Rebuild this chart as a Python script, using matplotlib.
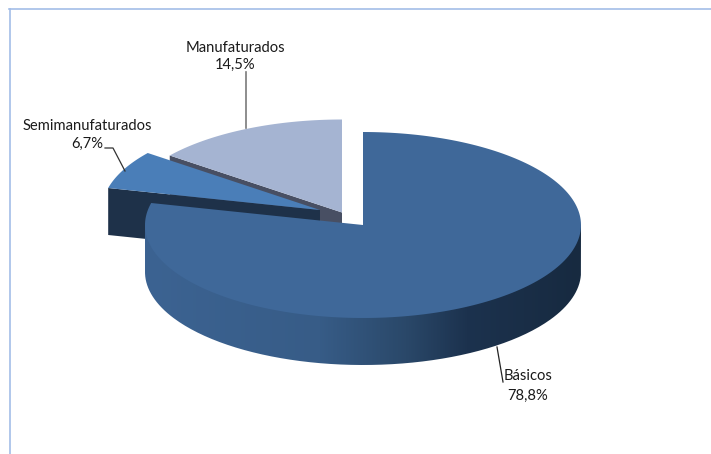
import numpy as np
import matplotlib.pyplot as plt
from matplotlib.colors import LinearSegmentedColormap
from matplotlib.patches import PathPatch, Polygon
from matplotlib.path import Path

categories = ["Básicos", "Semimanufaturados", "Manufaturados"]
shares = [78.8, 6.7, 14.5]
share_labels = ["78,8%", "6,7%", "14,5%"]

W, H = 711, 454
RX, RY, DEPTH = 218, 93, 47

# Apex of each slice in pixels (exploded pie, so each has its own)
centers = {"Básicos": (363, 225), "Semimanufaturados": (320, 210), "Manufaturados": (342, 212.5)}
top_colors = {"Básicos": "#3f6899", "Semimanufaturados": "#4a7eb8", "Manufaturados": "#a5b4d2"}
side_colors = {"Semimanufaturados": "#1e3149", "Manufaturados": "#484f63"}
rim_stops = [(0.0, "#3c6392"), (0.4, "#375c87"), (0.6, "#2a4869"), (0.74, "#1c324e"), (1.0, "#172a40")]


def rim(center, a0, a1, drop=0, n=200):
    t = np.radians(np.linspace(a0, a1, n))
    return np.column_stack([center[0] + RX * np.cos(t), center[1] - RY * np.sin(t) + drop])


def draw_top(ax, name, a0, a1, z):
    c = centers[name]
    pts = np.vstack([[c], rim(c, a0, a1)])
    ax.add_patch(Polygon(pts, closed=True, fc=top_colors[name], ec="none", zorder=z))


def draw_cut_face(ax, name, angle, z):
    c = centers[name]
    tip = rim(c, angle, angle, n=1)[0]
    pts = [c, tip, (tip[0], tip[1] + DEPTH), (c[0], c[1] + DEPTH)]
    ax.add_patch(Polygon(pts, closed=True, fc=side_colors[name], ec="none", zorder=z))


# Slice angles, clockwise from 12 o'clock
bounds = 90 - np.cumsum([0] + shares) * 3.6
a_basic_start, a_basic_end = bounds[0], bounds[1]
a_semi_end, a_manu_end = bounds[2], bounds[3]

fig = plt.figure(figsize=(W / 100, H / 100), dpi=100)
ax = fig.add_axes([0, 0, 1, 1])

# Manufaturados
draw_cut_face(ax, "Manufaturados", a_semi_end, 1)
draw_top(ax, "Manufaturados", a_semi_end, a_manu_end, 2)

# Semimanufaturados
draw_cut_face(ax, "Semimanufaturados", a_basic_end, 3)
draw_top(ax, "Semimanufaturados", a_basic_end, a_semi_end, 4)

# Básicos: shaded rim, runs under the top face so no seam shows
c = centers["Básicos"]
lower = rim(c, 360, 180, drop=DEPTH)
outline = np.vstack([[(c[0] - RX, c[1]), (c[0] + RX, c[1])], lower, [(c[0] - RX, c[1])]])
clip = PathPatch(Path(outline), fc="none", ec="none", transform=ax.transData)
ax.add_patch(clip)
cmap = LinearSegmentedColormap.from_list("rim", rim_stops)
img = ax.imshow(
    np.linspace(0, 1, 256).reshape(1, -1),
    cmap=cmap,
    extent=(c[0] - RX, c[0] + RX, c[1] + RY + DEPTH, c[1]),
    aspect="auto",
    zorder=5,
)
img.set_clip_path(clip)
draw_top(ax, "Básicos", a_basic_end, a_basic_start, 6)

# Leader lines
ax.plot([245.5, 245.5], [72, 128], color="#7a7a7a", lw=1.2, zorder=3)
ax.plot([105, 113, 125], [148, 148, 171], color="#333333", lw=0.9, zorder=7)
ax.plot([497, 503], [347, 382], color="#222222", lw=0.9, zorder=7)

# Labels
font = dict(family="Lato", fontsize=10.6, color="#1a1a1a", va="center", zorder=8)
ax.text(235, 47.5, categories[2], ha="center", **font)
ax.text(235, 64.5, share_labels[2], ha="center", **font)
ax.text(87.5, 125.5, categories[1], ha="center", **font)
ax.text(103, 143.5, share_labels[1], ha="right", **font)
ax.text(528, 376.5, categories[0], ha="center", **font)
ax.text(528, 395.5, share_labels[0], ha="center", **font)

# Chart frame, only top and left are in view
ax.plot([9.5, 9.5], [H, 9], color="#a3bde8", lw=1.2, zorder=9)
ax.plot([9, W], [9, 9], color="#a3bde8", lw=1.2, zorder=9)

ax.set_xlim(0, W)
ax.set_ylim(H, 0)
ax.axis("off")
fig.savefig("out.png", dpi=100, facecolor="white")
